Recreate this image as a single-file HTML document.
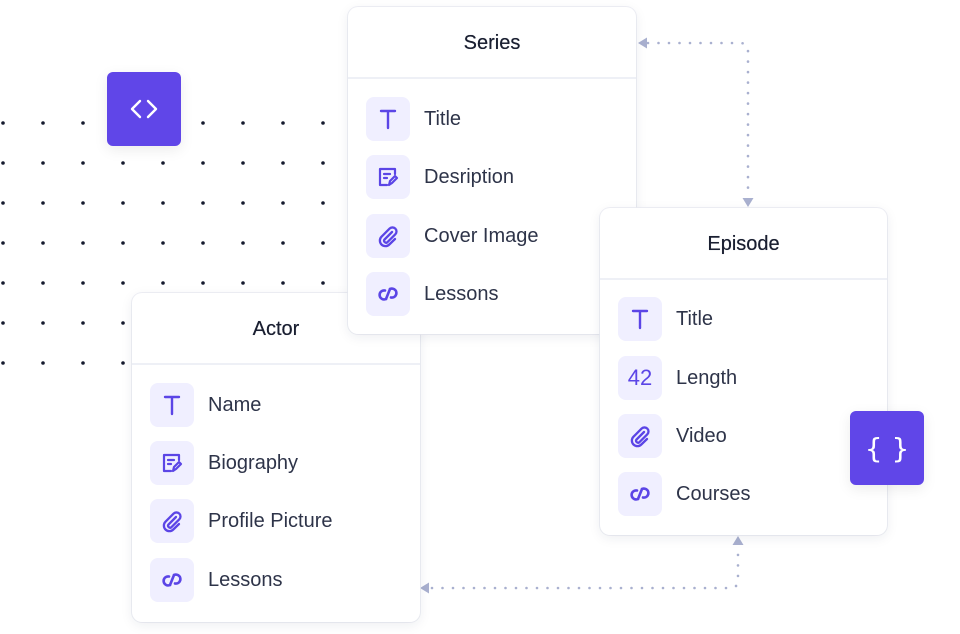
<!DOCTYPE html>
<html><head><meta charset="utf-8"><style>
*{margin:0;padding:0;box-sizing:border-box}
body{width:960px;height:634px;background:#fff;position:relative;overflow:hidden;font-family:"Liberation Sans",sans-serif}
.card{position:absolute;background:#fff;border-radius:10px;box-shadow:0 3px 12px rgba(30,40,80,0.08),0 0 0 1px rgba(236,238,244,0.8)}
.hd{height:72px;border-bottom:2px solid #eef0f6;text-align:center;line-height:72px;font-size:20px;color:#1a1f31;text-shadow:0 0 0.4px #1a1f31}
.row{position:absolute;left:18px;height:44px;display:flex;align-items:center}
.ic{width:44px;height:44px;border-radius:8px;background:#f0efff;display:flex;align-items:center;justify-content:center;margin-right:14px}
.row span{font-size:20px;color:#2e3449}
.pb{position:absolute;width:74px;height:74px;background:#6046e8;border-radius:6px;box-shadow:0 4px 14px rgba(0,0,0,0.08);display:flex;align-items:center;justify-content:center;color:#fff;font-size:30px;font-weight:bold}
.ic svg{width:26px;height:26px}
</style></head><body>
<svg width="960" height="634" style="position:absolute;left:0;top:0">
<g fill="#151a2e">
<circle cx="3" cy="123" r="1.8"/><circle cx="43" cy="123" r="1.8"/><circle cx="83" cy="123" r="1.8"/><circle cx="203" cy="123" r="1.8"/><circle cx="243" cy="123" r="1.8"/><circle cx="283" cy="123" r="1.8"/><circle cx="323" cy="123" r="1.8"/>
<circle cx="3" cy="163" r="1.8"/><circle cx="43" cy="163" r="1.8"/><circle cx="83" cy="163" r="1.8"/><circle cx="123" cy="163" r="1.8"/><circle cx="163" cy="163" r="1.8"/><circle cx="203" cy="163" r="1.8"/><circle cx="243" cy="163" r="1.8"/><circle cx="283" cy="163" r="1.8"/><circle cx="323" cy="163" r="1.8"/>
<circle cx="3" cy="203" r="1.8"/><circle cx="43" cy="203" r="1.8"/><circle cx="83" cy="203" r="1.8"/><circle cx="123" cy="203" r="1.8"/><circle cx="163" cy="203" r="1.8"/><circle cx="203" cy="203" r="1.8"/><circle cx="243" cy="203" r="1.8"/><circle cx="283" cy="203" r="1.8"/><circle cx="323" cy="203" r="1.8"/>
<circle cx="3" cy="243" r="1.8"/><circle cx="43" cy="243" r="1.8"/><circle cx="83" cy="243" r="1.8"/><circle cx="123" cy="243" r="1.8"/><circle cx="163" cy="243" r="1.8"/><circle cx="203" cy="243" r="1.8"/><circle cx="243" cy="243" r="1.8"/><circle cx="283" cy="243" r="1.8"/><circle cx="323" cy="243" r="1.8"/>
<circle cx="3" cy="283" r="1.8"/><circle cx="43" cy="283" r="1.8"/><circle cx="83" cy="283" r="1.8"/><circle cx="123" cy="283" r="1.8"/><circle cx="163" cy="283" r="1.8"/><circle cx="203" cy="283" r="1.8"/><circle cx="243" cy="283" r="1.8"/><circle cx="283" cy="283" r="1.8"/><circle cx="323" cy="283" r="1.8"/>
<circle cx="3" cy="323" r="1.8"/><circle cx="43" cy="323" r="1.8"/><circle cx="83" cy="323" r="1.8"/><circle cx="123" cy="323" r="1.8"/>
<circle cx="3" cy="363" r="1.8"/><circle cx="43" cy="363" r="1.8"/><circle cx="83" cy="363" r="1.8"/><circle cx="123" cy="363" r="1.8"/>
</g>
<g fill="none" stroke="#a9b0cf" stroke-width="2.6" stroke-linecap="round" stroke-dasharray="0 10.5">
<path d="M648 43 H740 Q748 43 748 51 V196"/>
<path d="M432 588 H730 Q738 588 738 580 V548"/>
</g>
<g fill="#a9b0cf">
<path d="M638 43 L647 37.5 L647 48.5 Z"/>
<path d="M748 207 L742.5 198 L753.5 198 Z"/>
<path d="M420 588 L429 582.5 L429 593.5 Z"/>
<path d="M738 536 L732.5 545 L743.5 545 Z"/>
</g>
</svg>

<div class="pb" style="left:107px;top:72px"><svg width="34" height="24" viewBox="0 0 34 24" fill="none" stroke="#fff" stroke-width="2.4" stroke-linecap="round" stroke-linejoin="round"><path d="M13 4 L5 12 L13 20"/><path d="M21 4 L29 12 L21 20"/></svg></div>

<!-- Actor -->
<div class="card" style="left:132px;top:293px;width:288px;height:329px">
<div class="hd">Actor</div>
<div class="row" style="top:90px"><div class="ic"><svg viewBox="0 0 26 26" fill="none" stroke="#5b45e6" stroke-width="2.4" stroke-linecap="round"><path d="M6 5H20M13 5V22"/></svg></div><span>Name</span></div>
<div class="row" style="top:148px"><div class="ic"><svg viewBox="0 0 26 26" fill="none" stroke="#5b45e6" stroke-width="2.2" stroke-linecap="round" stroke-linejoin="round"><path d="M20 10V5H5V21H12"/><path d="M9 10H15M9 14H12"/><path d="M14 21L15 17L20 12L22 14L17 19Z"/></svg></div><span>Biography</span></div>
<div class="row" style="top:206px"><div class="ic"><svg viewBox="0 0 26 26" fill="none" stroke="#5b45e6" stroke-width="2.3" stroke-linecap="round"><path d="M17 9L9.5 16.5A2 2 0 0 0 12.3 19.3L20.3 11.3A4 4 0 0 0 14.6 5.6L6.5 13.7A5.5 5.5 0 0 0 14.3 21.5L20 16"/></svg></div><span>Profile Picture</span></div>
<div class="row" style="top:265px"><div class="ic"><svg viewBox="0 0 26 26" fill="none" stroke="#5b45e6" stroke-width="2.6" stroke-linecap="round"><path d="M10 9.5A4.5 4.5 0 1 0 11 18"/><path d="M16 16.5A4.5 4.5 0 1 0 15 8"/><path d="M11 18L15 8"/></svg></div><span>Lessons</span></div>
</div>

<!-- Series -->
<div class="card" style="left:348px;top:7px;width:288px;height:327px">
<div class="hd">Series</div>
<div class="row" style="top:90px"><div class="ic"><svg viewBox="0 0 26 26" fill="none" stroke="#5b45e6" stroke-width="2.4" stroke-linecap="round"><path d="M6 5H20M13 5V22"/></svg></div><span>Title</span></div>
<div class="row" style="top:148px"><div class="ic"><svg viewBox="0 0 26 26" fill="none" stroke="#5b45e6" stroke-width="2.2" stroke-linecap="round" stroke-linejoin="round"><path d="M20 10V5H5V21H12"/><path d="M9 10H15M9 14H12"/><path d="M14 21L15 17L20 12L22 14L17 19Z"/></svg></div><span>Desription</span></div>
<div class="row" style="top:207px"><div class="ic"><svg viewBox="0 0 26 26" fill="none" stroke="#5b45e6" stroke-width="2.3" stroke-linecap="round"><path d="M17 9L9.5 16.5A2 2 0 0 0 12.3 19.3L20.3 11.3A4 4 0 0 0 14.6 5.6L6.5 13.7A5.5 5.5 0 0 0 14.3 21.5L20 16"/></svg></div><span>Cover Image</span></div>
<div class="row" style="top:265px"><div class="ic"><svg viewBox="0 0 26 26" fill="none" stroke="#5b45e6" stroke-width="2.6" stroke-linecap="round"><path d="M10 9.5A4.5 4.5 0 1 0 11 18"/><path d="M16 16.5A4.5 4.5 0 1 0 15 8"/><path d="M11 18L15 8"/></svg></div><span>Lessons</span></div>
</div>

<!-- Episode -->
<div class="card" style="left:600px;top:208px;width:287px;height:327px">
<div class="hd">Episode</div>
<div class="row" style="top:89px"><div class="ic"><svg viewBox="0 0 26 26" fill="none" stroke="#5b45e6" stroke-width="2.4" stroke-linecap="round"><path d="M6 5H20M13 5V22"/></svg></div><span>Title</span></div>
<div class="row" style="top:148px"><div class="ic" style="color:#5b45e6;font-size:22px">42</div><span>Length</span></div>
<div class="row" style="top:206px"><div class="ic"><svg viewBox="0 0 26 26" fill="none" stroke="#5b45e6" stroke-width="2.3" stroke-linecap="round"><path d="M17 9L9.5 16.5A2 2 0 0 0 12.3 19.3L20.3 11.3A4 4 0 0 0 14.6 5.6L6.5 13.7A5.5 5.5 0 0 0 14.3 21.5L20 16"/></svg></div><span>Video</span></div>
<div class="row" style="top:264px"><div class="ic"><svg viewBox="0 0 26 26" fill="none" stroke="#5b45e6" stroke-width="2.6" stroke-linecap="round"><path d="M10 9.5A4.5 4.5 0 1 0 11 18"/><path d="M16 16.5A4.5 4.5 0 1 0 15 8"/><path d="M11 18L15 8"/></svg></div><span>Courses</span></div>
</div>

<div class="pb" style="left:850px;top:411px;font-family:'DejaVu Sans',sans-serif;font-weight:normal;font-size:28px">{ }</div>
</body></html>
